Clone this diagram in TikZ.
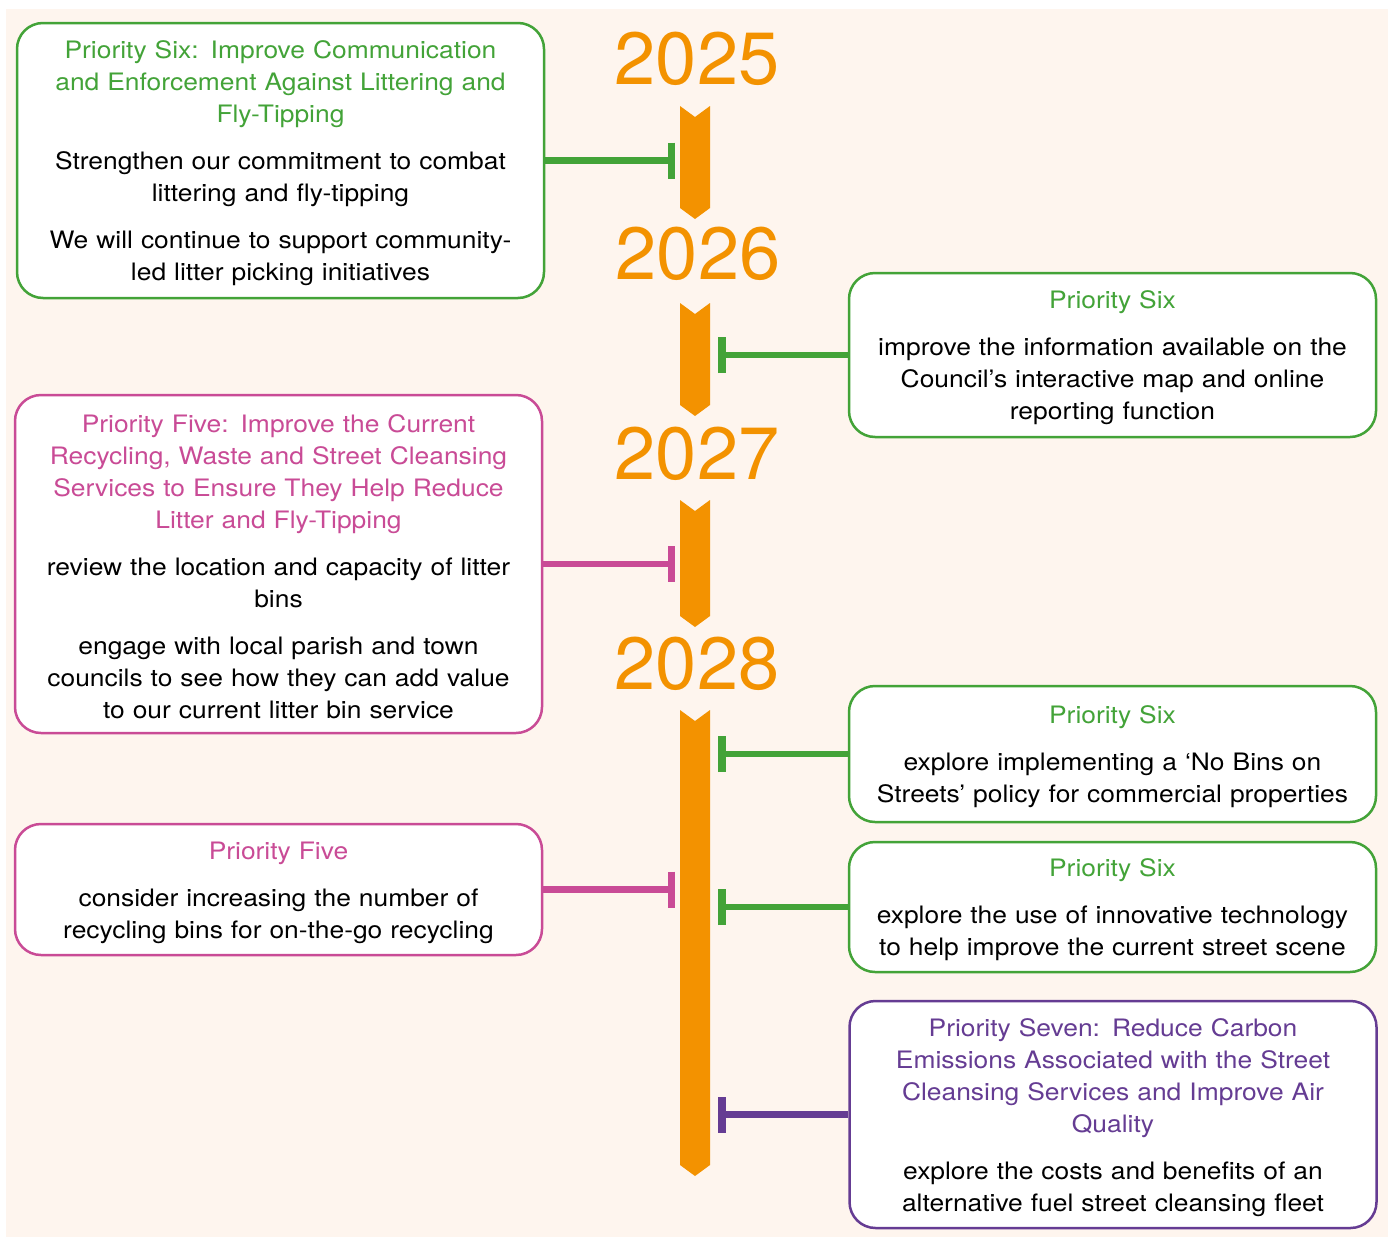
\documentclass[tikz,border=0pt]{standalone}
\usepackage{fontspec}
\setmainfont{TeX Gyre Heros}
\newfontfamily\boxfont[FakeStretch=1.1]{TeX Gyre Heros}
\usetikzlibrary{arrows.meta}
\definecolor{bgcream}{HTML}{FEF5EE}
\definecolor{yearorange}{HTML}{F39200}
\definecolor{sixgreen}{HTML}{43A338}
\definecolor{fivepink}{HTML}{C94B96}
\definecolor{sevenpurple}{HTML}{653C93}

\tikzset{
  prio/.style={draw=#1, line width=2.5pt, fill=white, rounded corners=26pt,
    text width=505pt, inner xsep=11pt, align=center,
    font=\boxfont\fontsize{24}{32}\selectfont,
    execute at begin node=\rule{0pt}{24pt}},
  yr/.style={text=yearorange, font=\fontsize{74}{74}\selectfont},
  tbar/.style={draw=#1, line width=6.5pt, -{Bar[width=36pt,line width=7.5pt]}},
}

\begin{document}
\begin{tikzpicture}[x=1pt,y=-1pt]
  \useasboundingbox (0,0) rectangle (1394,1237);
  \fill[bgcream] (6,9) rectangle (1388,1237);

  % timeline
  \foreach \t/\b in {106/219,303/416,500/627,710/1176}
    \fill[yearorange] (680,\t) -- (695,\t+11) -- (710,\t) -- (710,\b-11) -- (695,\b) -- (680,\b-11) -- cycle;
  \node[yr] (y25) at (697,59) {2025};
  \node[yr] (y26) at (698,254) {2026};
  \node[yr] (y27) at (697,454) {2027};
  \node[yr] (y28) at (697,664) {2028};

  \coordinate (lend) at (675,0);
  \coordinate (rend) at (718,0);

  % left boxes
  \node[prio=sixgreen, minimum height=275pt] (l1) at (280.5,160.5) {{\color{sixgreen}Priority Six: Improve Communication\\and Enforcement Against Littering and\\Fly-Tipping}\\[15pt]
    Strengthen our commitment to combat\\littering and fly-tipping\\[15pt]
    We will continue to support community-\\led litter picking initiatives};
  \node[prio=fivepink, minimum height=338pt] (l2) at (278.5,564) {{\color{fivepink}Priority Five: Improve the Current\\Recycling, Waste and Street Cleansing\\Services to Ensure They Help Reduce\\Litter and Fly-Tipping}\\[15pt]
    review the location and capacity of litter\\bins\\[15pt]
    engage with local parish and town\\councils to see how they can add value\\to our current litter bin service};
  \node[prio=fivepink, minimum height=131pt] (l3) at (278.5,889.5) {{\color{fivepink}Priority Five}\\[15pt]
    consider increasing the number of\\recycling bins for on-the-go recycling};

  % right boxes
  \node[prio=sixgreen, minimum height=164pt] (r1) at (1112.5,355) {{\color{sixgreen}Priority Six}\\[15pt]
    improve the information available on the\\Council’s interactive map and online\\reporting function};
  \node[prio=sixgreen, minimum height=136pt] (r2) at (1112.5,754) {{\color{sixgreen}Priority Six}\\[15pt]
    explore implementing a ‘No Bins on\\Streets’ policy for commercial properties};
  \node[prio=sixgreen, minimum height=130pt] (r3) at (1112.5,907) {{\color{sixgreen}Priority Six}\\[15pt]
    explore the use of innovative technology\\to help improve the current street scene};
  \node[prio=sevenpurple, minimum height=227pt] (r4) at (1113,1114.5) {{\color{sevenpurple}Priority Seven: Reduce Carbon\\Emissions Associated with the Street\\Cleansing Services and Improve Air\\Quality}\\[15pt]
    explore the costs and benefits of an\\alternative fuel street cleansing fleet};

  % connectors
  \draw[tbar=sixgreen] (l1.east) -- (l1.east -| lend);
  \draw[tbar=fivepink] (l2.east) -- (l2.east -| lend);
  \draw[tbar=fivepink] (l3.east) -- (l3.east -| lend);
  \draw[tbar=sixgreen] (r1.west) -- (r1.west -| rend);
  \draw[tbar=sixgreen] (r2.west) -- (r2.west -| rend);
  \draw[tbar=sixgreen] (r3.west) -- (r3.west -| rend);
  \draw[tbar=sevenpurple] (r4.west) -- (r4.west -| rend);
\end{tikzpicture}
\end{document}
